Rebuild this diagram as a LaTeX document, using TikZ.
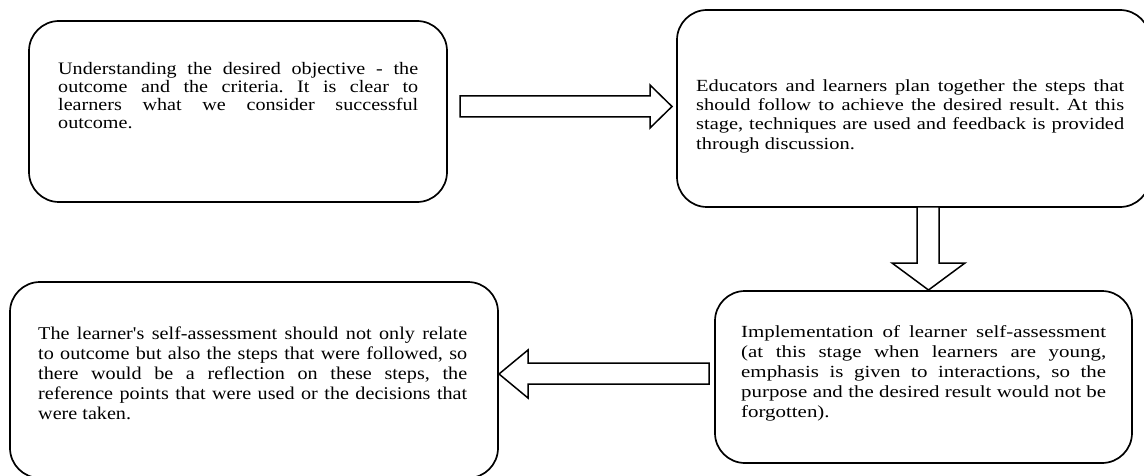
\documentclass[tikz,border=0pt]{standalone}
\usepackage{fontspec}
\newfontfamily\fonta[FakeStretch=1.15]{Liberation Serif}
\newfontfamily\fontb[FakeStretch=1.20]{Liberation Serif}
\newfontfamily\fontc[FakeStretch=1.23]{Liberation Serif}
\newfontfamily\fontd[FakeStretch=1.12]{Liberation Serif}
\newcommand\justset{\leftskip=0pt\rightskip=0pt\spaceskip=0pt\xspaceskip=0pt\parfillskip=0pt plus 1fil\frenchspacing\hbadness=10000\tolerance=10000\pretolerance=-1\relax}
\tikzset{
  box/.style={draw, line width=1.7pt, rounded corners=30pt, inner sep=0pt},
  blockarrow/.style={draw, line width=1.5pt, fill=white, line join=miter},
  txt/.style={anchor=north west, inner sep=0pt, align=justify},
}
\begin{document}
\begin{tikzpicture}[x=1pt,y=-1pt]
\path[use as bounding box] (0,0) rectangle (1144,476);
\clip (0,0) rectangle (1144,476);
\fill[white] (0,0) rectangle (1144,476);

% boxes
\node[box, minimum width=418pt, minimum height=181pt] (b1) at (238,111.5) {};
\node[box, minimum width=473pt, minimum height=197pt] (b2) at (913.5,108.5) {};
\node[box, minimum width=417pt, minimum height=172pt] (b3) at (923.5,377) {};
\node[box, minimum width=488pt, minimum height=196pt] (b4) at (254,380) {};

% texts
\node[txt, text width=360pt, font={\fonta\fontsize{17.5pt}{18pt}\selectfont}] (t1) at (58,54) {\justset
\rule{0pt}{20pt}Understanding the desired objective - the\linebreak
outcome and the criteria. It is clear to\linebreak
learners what we consider successful\linebreak
outcome.};

\node[txt, text width=428pt, font={\fontb\fontsize{17pt}{19.3pt}\selectfont}] (t2) at (696,71) {\justset
\rule{0pt}{20pt}Educators and learners plan together the steps that\linebreak
should follow to achieve the desired result. At this\linebreak
stage, techniques are used and feedback is provided\linebreak
through discussion.};

\node[txt, text width=365pt, font={\fontc\fontsize{17pt}{20pt}\selectfont}] (t3) at (741,317) {\justset
\rule{0pt}{20pt}Implementation of learner self-assessment\linebreak
(at this stage when learners are young,\linebreak
emphasis is given to interactions, so the\linebreak
purpose and the desired result would not be\linebreak
forgotten).};

\node[txt, text width=429pt, font={\fontd\fontsize{18pt}{20pt}\selectfont}] (t4) at (38,319) {\justset
\rule{0pt}{20pt}The learner's self-assessment should not only relate\linebreak
to outcome but also the steps that were followed, so\linebreak
there would be a reflection on these steps, the\linebreak
reference points that were used or the decisions that\linebreak
were taken.};

% block arrows
\draw[blockarrow] (460,96) -- (650,96) -- (650,85) -- (672,106.5) -- (650,128) -- (650,117) -- (460,117) -- cycle;
\draw[blockarrow] (917,207) -- (917,263) -- (892,263) -- (928.5,290) -- (965,263) -- (939,263) -- (939,207) -- cycle;
\draw[blockarrow] (709,363) -- (528,363) -- (528,350) -- (499,374) -- (528,398) -- (528,384) -- (709,384) -- cycle;
\end{tikzpicture}
\end{document}
